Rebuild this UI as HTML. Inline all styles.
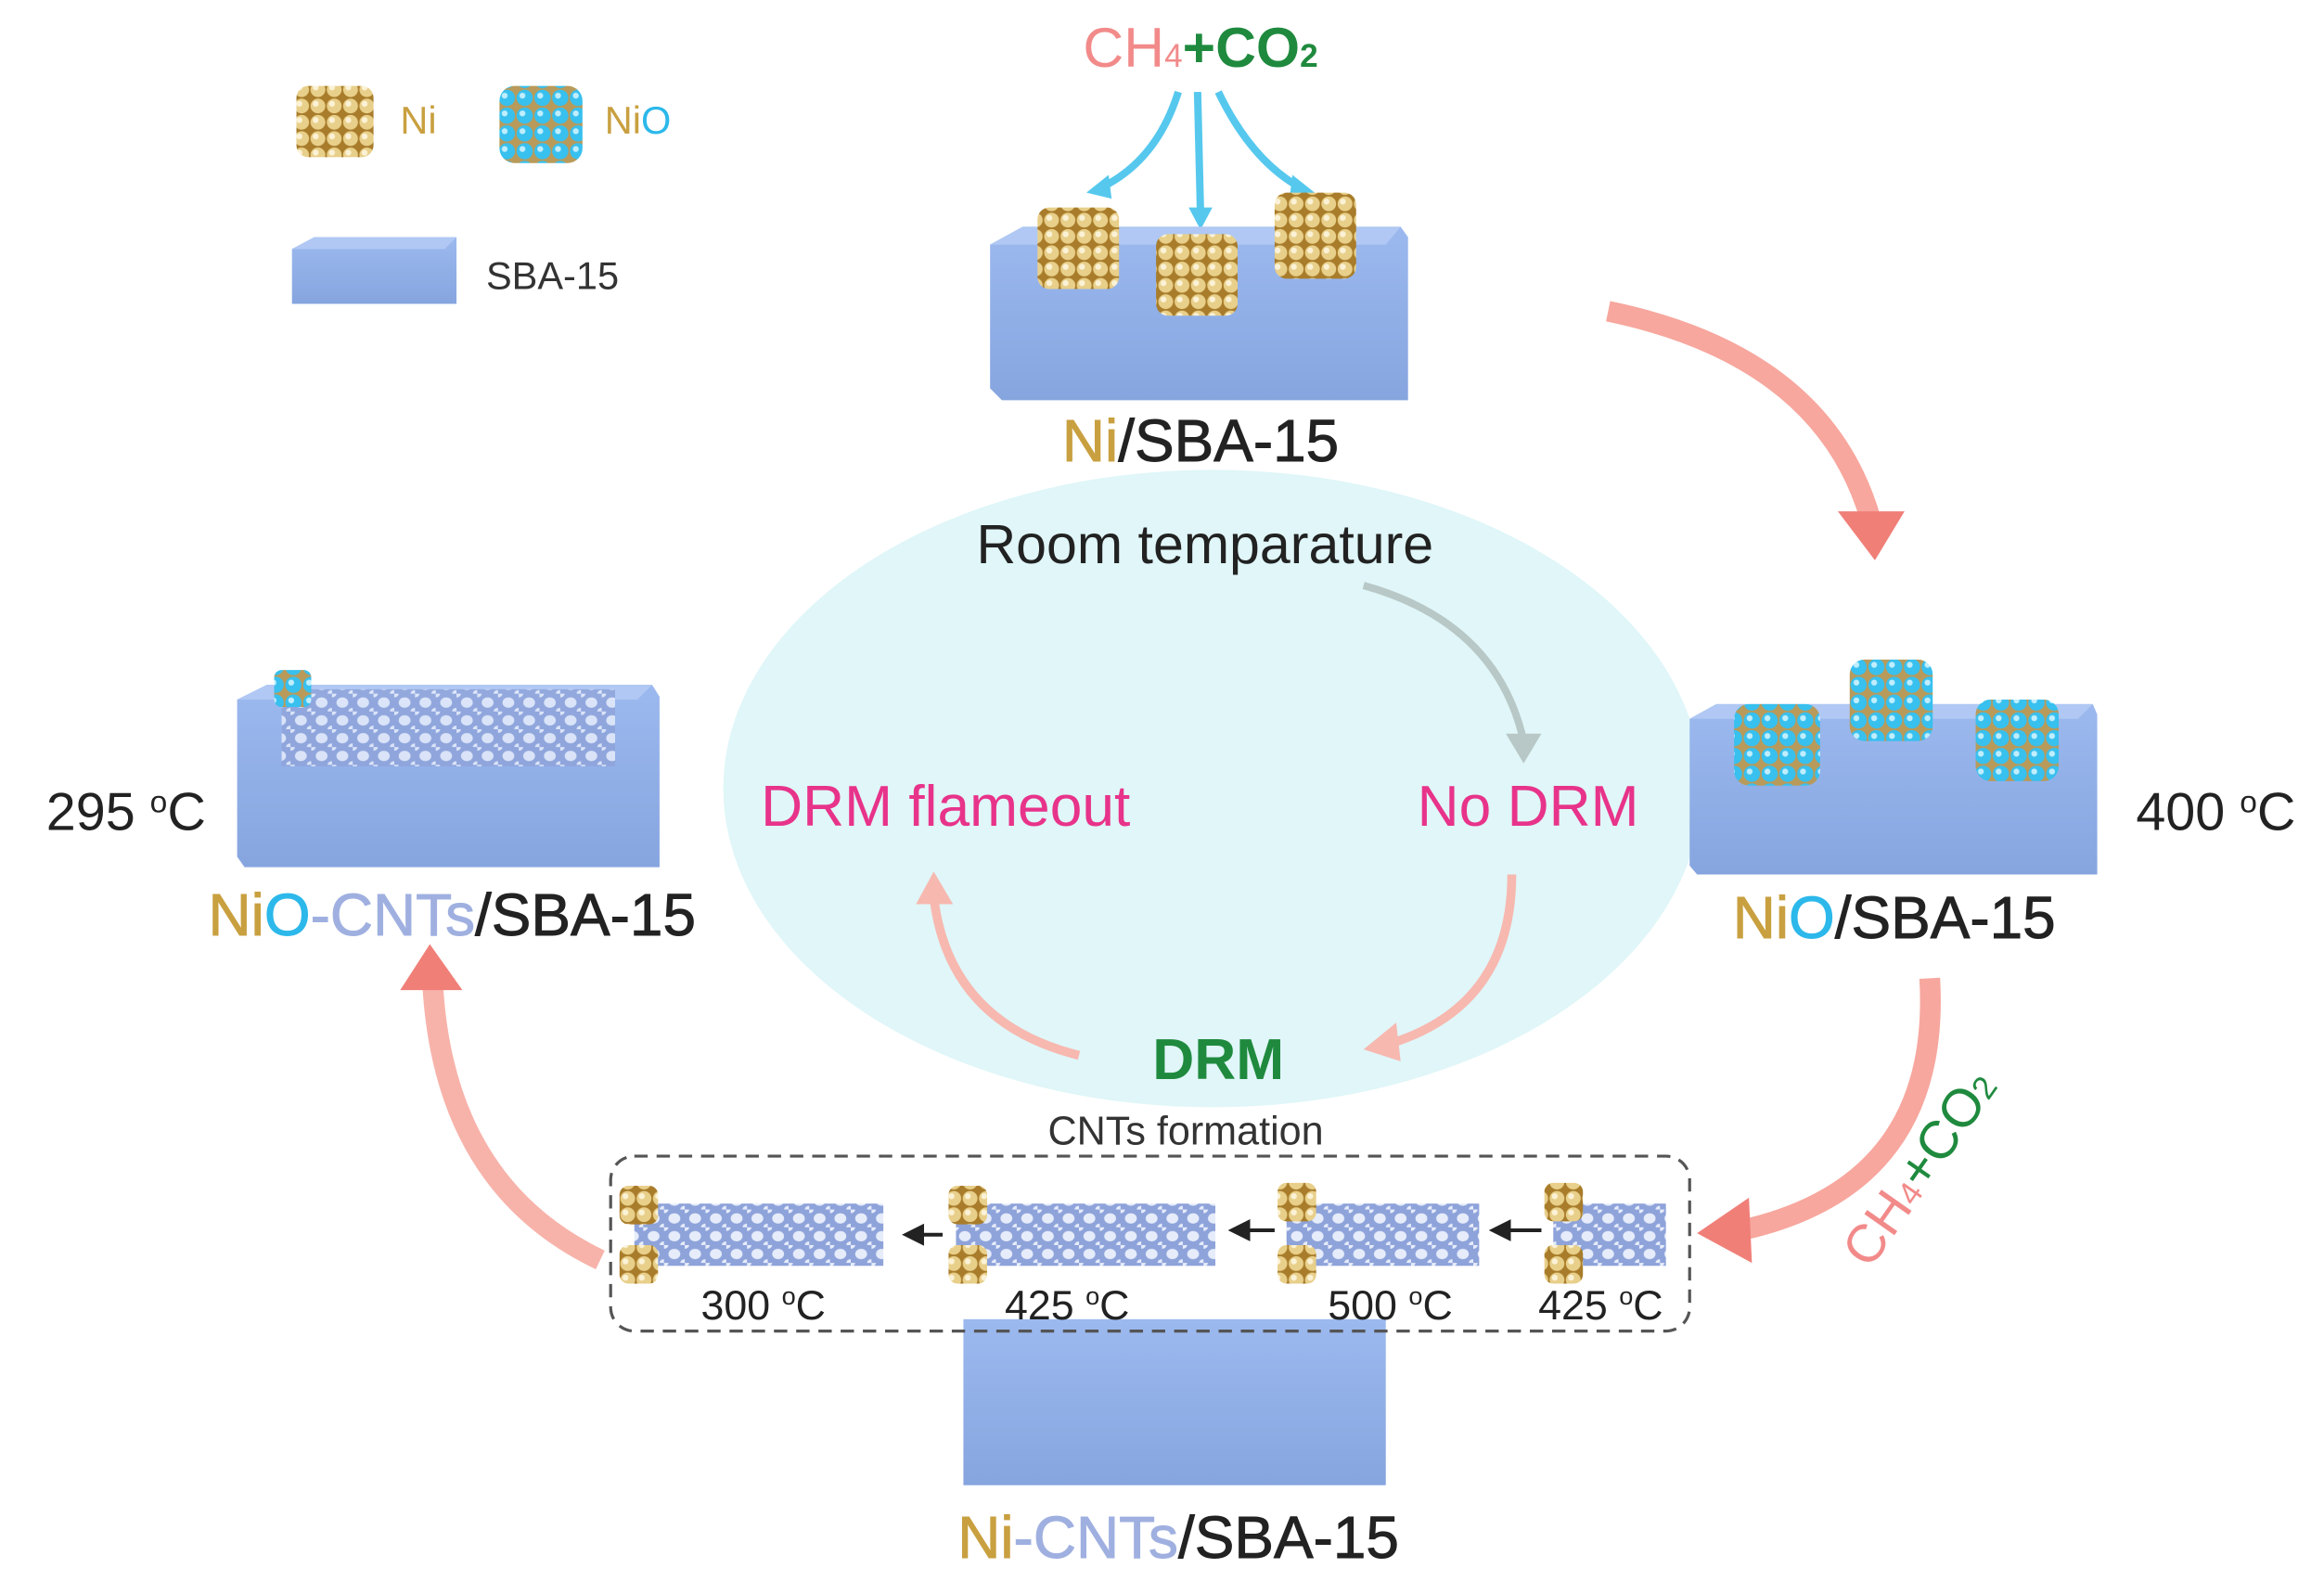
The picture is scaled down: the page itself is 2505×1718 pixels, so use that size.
<!DOCTYPE html>
<html><head><meta charset="utf-8"><style>
html,body{margin:0;padding:0;background:#fff;}
svg{display:block}
text{font-family:"Liberation Sans",Arial,sans-serif;}
</style></head><body>
<svg width="2505" height="1718" viewBox="0 0 1568 1075.4" preserveAspectRatio="none" xmlns="http://www.w3.org/2000/svg">
<defs>
<pattern id="gold" width="11" height="11" patternUnits="userSpaceOnUse">
<rect width="11" height="11" fill="#a87c2a"/><circle cx="5.5" cy="5.5" r="5" fill="#e8cf8a"/><circle cx="4" cy="4" r="2" fill="#fbf2d6"/></pattern>
<pattern id="nio" width="12" height="12" patternUnits="userSpaceOnUse">
<rect width="12" height="12" fill="#b89a5a"/><circle cx="6" cy="6" r="5.5" fill="#38c0ee"/><circle cx="4.5" cy="4.5" r="2" fill="#bfeeff"/></pattern>
<pattern id="hex" width="14" height="12" patternUnits="userSpaceOnUse">
<rect width="14" height="12" fill="#8ea3da"/><ellipse cx="7" cy="6" rx="4" ry="3.5" fill="#e6ecfa"/><ellipse cx="0" cy="0" rx="3" ry="2.5" fill="#e6ecfa"/><ellipse cx="14" cy="12" rx="3" ry="2.5" fill="#e6ecfa"/></pattern>
<linearGradient id="front" x1="0" y1="0" x2="0" y2="1"><stop offset="0" stop-color="#9cb9ef"/><stop offset="1" stop-color="#86a5df"/></linearGradient>
<marker id="ah" markerWidth="6" markerHeight="6" refX="3" refY="3" orient="auto"><path d="M0,0L6,3L0,6z" fill="#222"/></marker>
</defs>

<ellipse cx="818" cy="532" rx="330" ry="215" fill="#e0f6f8"/>

<!-- Legend -->
<rect x="200" y="58" width="52" height="48" rx="8" fill="url(#gold)"/>
<text x="270" y="90" font-size="26" fill="#c9a040">Ni</text>
<rect x="337" y="58" width="56" height="52" rx="10" fill="url(#nio)"/>
<text x="408" y="90" font-size="26"><tspan fill="#c9a040">Ni</tspan><tspan fill="#2cb8ea">O</tspan></text>
<path d="M197,168 L212,160 L308,160 L308,205 L197,205 Z" fill="url(#front)"/>
<path d="M197,168 L212,160 L308,160 L300,168 Z" fill="#b0c8f3"/>
<text x="328" y="195" font-size="26" fill="#333">SBA-15</text>

<!-- Top -->
<text x="810" y="45" font-size="38" text-anchor="middle"><tspan fill="#f28a8a">CH</tspan><tspan fill="#f28a8a" font-size="22">4</tspan><tspan fill="#1f8a3e" font-weight="bold">+CO</tspan><tspan fill="#1f8a3e" font-size="22" font-weight="bold">2</tspan></text>
<g stroke="#56c8ee" stroke-width="5" fill="none">
<path d="M795,62 Q780,110 740,128"/><path d="M808,62 L810,145"/><path d="M822,62 Q845,110 880,128"/></g>
<g fill="#56c8ee"><path d="M733,130 L748,118 L750,134z"/><path d="M802,140 L818,140 L810,155z"/><path d="M887,130 L872,118 L870,134z"/></g>
<path d="M668,165 L690,153 L945,153 L950,160 L950,270 L676,270 L668,262 Z" fill="url(#front)"/>
<path d="M668,165 L690,153 L945,153 L935,165 Z" fill="#b0c8f3"/>
<rect x="700" y="140" width="55" height="55" rx="8" fill="url(#gold)"/>
<rect x="780" y="158" width="55" height="55" rx="8" fill="url(#gold)"/>
<rect x="860" y="130" width="55" height="58" rx="8" fill="url(#gold)"/>
<text x="810" y="311" font-size="40" text-anchor="middle" fill="#222" stroke="#222" stroke-width="0.6"><tspan fill="#c9a040" stroke="#c9a040">Ni</tspan>/SBA-15</text>

<text x="813" y="380" font-size="37" text-anchor="middle" fill="#222">Room temparature</text>
<path d="M920,395 Q1010,420 1028,500" stroke="#b8c8c6" stroke-width="5" fill="none"/>
<path d="M1016,495 L1040,495 L1028,515z" fill="#b8c8c6"/>
<text x="1031" y="557" font-size="39" text-anchor="middle" fill="#e8338a">No DRM</text>
<text x="638" y="557" font-size="39" text-anchor="middle" fill="#e8338a">DRM flameout</text>
<text x="822" y="728" font-size="39" text-anchor="middle" font-weight="bold" fill="#1f8a3e">DRM</text>
<path d="M1020,590 Q1020,680 935,705" stroke="#f7b8b0" stroke-width="6" fill="none"/>
<path d="M920,708 L942,690 L945,716z" fill="#f7b8b0"/>
<path d="M728,712 Q640,690 630,605" stroke="#f7b8b0" stroke-width="6" fill="none"/>
<path d="M618,610 L630,588 L643,610z" fill="#f7b8b0"/>

<!-- big arrows -->
<path d="M1085,210 Q1230,240 1262,350" stroke="#f7a79e" stroke-width="14" fill="none"/>
<path d="M1240,345 L1285,345 L1265,378z" fill="#f07f78"/>
<path d="M1302,660 Q1310,800 1175,830" stroke="#f7a79e" stroke-width="14" fill="none"/>
<path d="M1180,808 L1145,832 L1182,852z" fill="#f07f78"/>
<path d="M405,850 Q300,800 292,665" stroke="#f7b3aa" stroke-width="14" fill="none"/>
<path d="M270,668 L290,637 L312,668z" fill="#f07f78"/>
<text transform="translate(1305,795) rotate(-55)" font-size="36" text-anchor="middle"><tspan fill="#f28a8a">CH</tspan><tspan fill="#f28a8a" font-size="22">4</tspan><tspan fill="#1f8a3e">+CO</tspan><tspan fill="#1f8a3e" font-size="22">2</tspan></text>

<!-- Right -->
<path d="M1140,485 L1158,475 L1412,475 L1415,482 L1415,590 L1145,590 L1140,584 Z" fill="url(#front)"/>
<path d="M1140,485 L1158,475 L1412,475 L1402,485 Z" fill="#b0c8f3"/>
<rect x="1170" y="475" width="58" height="55" rx="10" fill="url(#nio)"/>
<rect x="1248" y="445" width="56" height="55" rx="10" fill="url(#nio)"/>
<rect x="1333" y="472" width="56" height="55" rx="10" fill="url(#nio)"/>
<text x="1495" y="560" font-size="36" text-anchor="middle" fill="#222">400 <tspan font-size="21" dy="-12">o</tspan><tspan dy="12">C</tspan></text>
<text x="1278" y="633" font-size="40" text-anchor="middle" fill="#222" stroke="#222" stroke-width="0.6"><tspan fill="#c9a040" stroke="#c9a040">Ni</tspan><tspan fill="#2cb8ea" stroke="#2cb8ea">O</tspan>/SBA-15</text>

<!-- Left -->
<path d="M160,472 L180,462 L440,462 L445,470 L445,585 L165,585 L160,578 Z" fill="url(#front)"/>
<path d="M160,472 L180,462 L440,462 L430,472 Z" fill="#b0c8f3"/>
<rect x="190" y="465" width="225" height="52" fill="url(#hex)" opacity="0.85"/>
<rect x="185" y="452" width="25" height="25" rx="5" fill="url(#nio)"/>
<text x="85" y="560" font-size="36" text-anchor="middle" fill="#222">295 <tspan font-size="21" dy="-12">o</tspan><tspan dy="12">C</tspan></text>
<text x="305" y="631" font-size="40" text-anchor="middle" fill="#222" stroke="#222" stroke-width="0.6"><tspan fill="#c9a040" stroke="#c9a040">Ni</tspan><tspan fill="#2cb8ea" stroke="#2cb8ea">O</tspan><tspan fill="#9fb0e0" stroke="#9fb0e0">-CNTs</tspan>/SBA-15</text>

<!-- CNTs -->
<text x="800" y="772" font-size="27" text-anchor="middle" fill="#333">CNTs formation</text>
<rect x="650" y="890" width="285" height="112" fill="url(#front)"/>
<rect x="412" y="780" width="728" height="118" rx="16" fill="none" stroke="#555" stroke-width="2" stroke-dasharray="9,6"/>
<rect x="428" y="812" width="168" height="42" fill="url(#hex)"/>
<rect x="645" y="812" width="175" height="42" fill="url(#hex)"/>
<rect x="868" y="812" width="130" height="42" fill="url(#hex)"/>
<rect x="1048" y="812" width="76" height="42" fill="url(#hex)"/>
<g fill="url(#gold)">
<rect x="418" y="800" width="26" height="26" rx="6"/><rect x="418" y="840" width="26" height="26" rx="6"/>
<rect x="640" y="800" width="26" height="26" rx="6"/><rect x="640" y="840" width="26" height="26" rx="6"/>
<rect x="862" y="798" width="26" height="26" rx="6"/><rect x="862" y="840" width="26" height="26" rx="6"/>
<rect x="1042" y="798" width="26" height="26" rx="6"/><rect x="1042" y="840" width="26" height="26" rx="6"/>
</g>
<g stroke="#222" stroke-width="2.5" marker-end="url(#ah)">
<line x1="636" y1="833" x2="616" y2="833"/><line x1="860" y1="830" x2="836" y2="830"/><line x1="1040" y1="830" x2="1012" y2="830"/></g>
<g font-size="28" fill="#222" text-anchor="middle">
<text x="515" y="890">300 <tspan font-size="17" dy="-10">o</tspan><tspan dy="10">C</tspan></text>
<text x="720" y="890">425 <tspan font-size="17" dy="-10">o</tspan><tspan dy="10">C</tspan></text>
<text x="938" y="890">500 <tspan font-size="17" dy="-10">o</tspan><tspan dy="10">C</tspan></text>
<text x="1080" y="890">425 <tspan font-size="17" dy="-10">o</tspan><tspan dy="10">C</tspan></text>
</g>
<text x="795" y="1051" font-size="40" text-anchor="middle" fill="#222" stroke="#222" stroke-width="0.6"><tspan fill="#c9a040" stroke="#c9a040">Ni</tspan><tspan fill="#9fb0e0" stroke="#9fb0e0">-CNTs</tspan>/SBA-15</text>
</svg>
</body></html>
